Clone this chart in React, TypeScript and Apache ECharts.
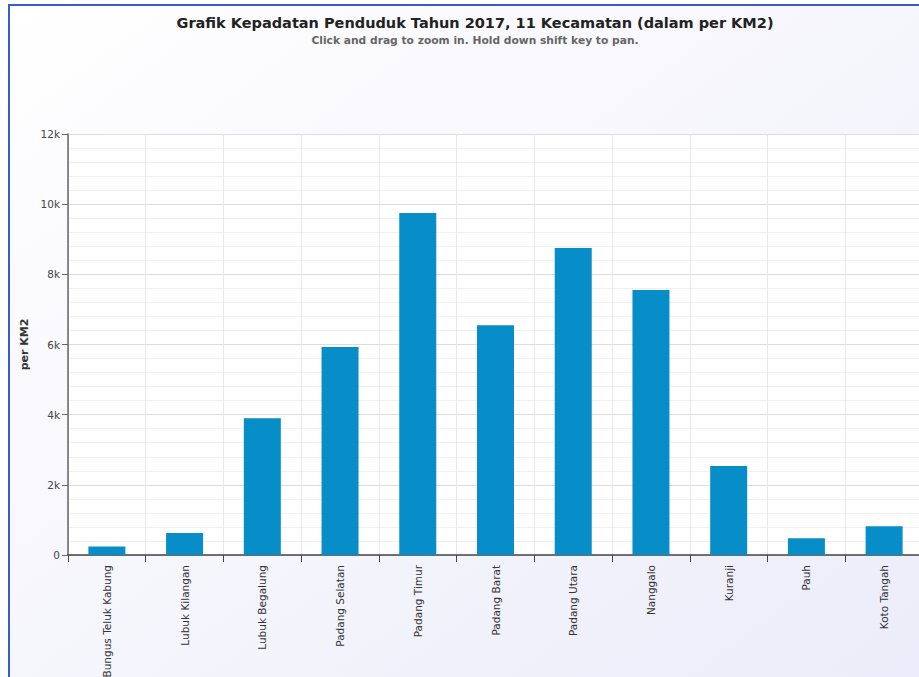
import React, { useEffect, useRef } from "react";
import * as echarts from "echarts";

const categories = [
  "Bungus Teluk Kabung",
  "Lubuk Kilangan",
  "Lubuk Begalung",
  "Padang Selatan",
  "Padang Timur",
  "Padang Barat",
  "Padang Utara",
  "Nanggalo",
  "Kuranji",
  "Pauh",
  "Koto Tangah",
];
const density = [240, 630, 3900, 5930, 9750, 6550, 8750, 7550, 2540, 480, 820];
const titleText = "Grafik Kepadatan Penduduk Tahun 2017, 11 Kecamatan (dalam per KM2)";
const subtitleText = "Click and drag to zoom in. Hold down shift key to pan.";
const yAxisName = "per KM2";

export default function App() {
  const ref = useRef<HTMLDivElement>(null);
  useEffect(() => {
    document.body.style.margin = "0";
    const chart = echarts.init(ref.current!, undefined, { renderer: "svg" });
    const font = "DejaVu Sans, Verdana, sans-serif";
    chart.setOption({
      animation: false,
      backgroundColor: "#ffffff",
      graphic: [
        {
          type: "rect",
          z: -10,
          silent: true,
          shape: { x: 9, y: 5, width: 920, height: 680 },
          style: {
            fill: new echarts.graphic.LinearGradient(0, 0, 1, 1, [
              { offset: 0, color: "#ffffff" },
              { offset: 1, color: "#ececfa" },
            ]),
          },
        },
        {
          type: "line",
          z: 10,
          shape: { x1: 9, y1: 5, x2: 919, y2: 5 },
          style: { stroke: "#3a5cc5", lineWidth: 2 },
        },
        {
          type: "line",
          z: 10,
          shape: { x1: 9, y1: 4, x2: 9, y2: 677 },
          style: { stroke: "#3a5cc5", lineWidth: 2 },
        },
      ],
      title: {
        text: titleText,
        subtext: subtitleText,
        left: 470,
        textAlign: "center",
        top: 10,
        itemGap: 5,
        textStyle: { fontFamily: font, fontSize: 14.5, fontWeight: "bold", color: "#222222" },
        subtextStyle: { fontFamily: font, fontSize: 10.7, fontWeight: "bold", color: "#666666" },
      },
      grid: {
        left: 68,
        top: 134,
        width: 855,
        height: 421,
        outerBoundsMode: "none",
        containLabel: false,
        show: true,
        backgroundColor: "#ffffff",
        borderWidth: 0,
      },
      xAxis: {
        type: "category",
        data: categories,
        axisLine: { show: true, lineStyle: { color: "#444444", width: 1.5 } },
        axisTick: { show: true, length: 7, lineStyle: { color: "#444444" } },
        axisLabel: {
          rotate: 90,
          interval: 0,
          margin: 10,
          fontFamily: font,
          fontSize: 10.5,
          color: "#333333",
        },
        splitLine: { show: true, lineStyle: { color: "#e8e8e8" } },
      },
      yAxis: {
        type: "value",
        min: 0,
        max: 12000,
        interval: 2000,
        name: yAxisName,
        nameLocation: "middle",
        nameGap: 36,
        nameTextStyle: { fontFamily: font, fontSize: 11, fontWeight: "bold", color: "#333333" },
        axisLine: { show: true, lineStyle: { color: "#666666", width: 1.5 } },
        axisTick: { show: true, length: 6, lineStyle: { color: "#666666" } },
        axisLabel: {
          fontFamily: font,
          fontSize: 10.5,
          color: "#444444",
          margin: 8,
          formatter: (v: number) => (v === 0 ? "0" : v / 1000 + "k"),
        },
        splitLine: { show: true, lineStyle: { color: "#dddddd" } },
        minorTick: { show: false, splitNumber: 5 },
        minorSplitLine: { show: true, lineStyle: { color: "#f0f0f0" } },
      },
      series: [
        {
          type: "bar",
          data: density,
          barWidth: 37,
          itemStyle: { color: "#078dc8" },
        },
      ],
    });
    return () => chart.dispose();
  }, []);
  return <div ref={ref} style={{ width: 919, height: 677 }} />;
}
